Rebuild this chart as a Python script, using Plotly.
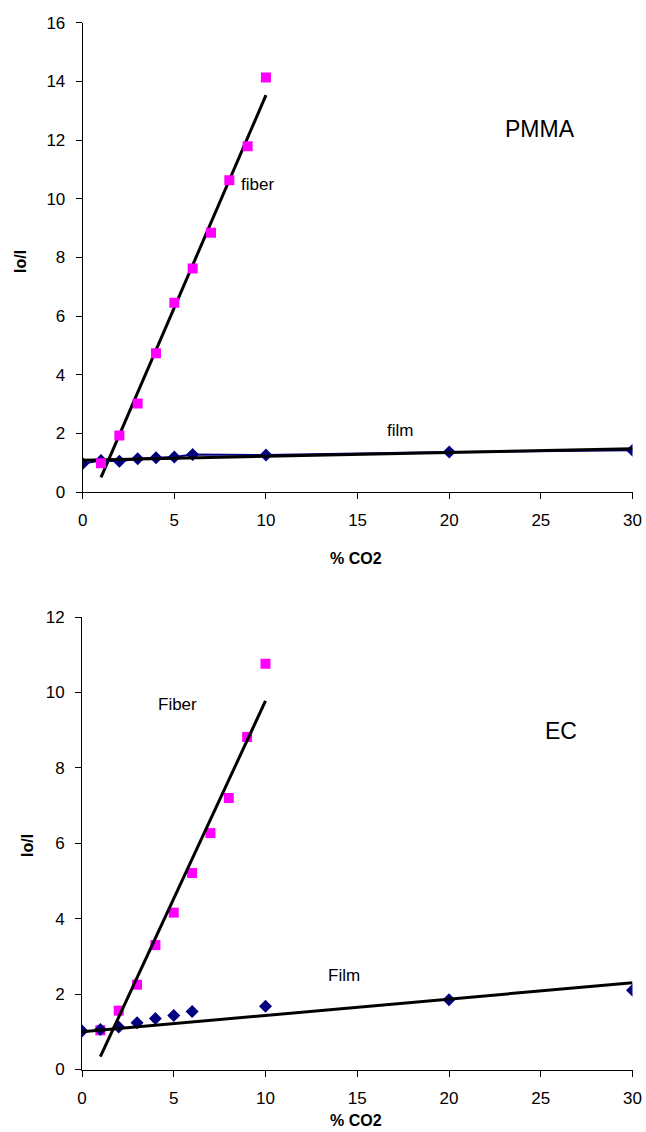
import numpy as np
import plotly.graph_objects as go

# ---------------- data ----------------
co2_fiber = [1, 2, 3, 4, 5, 6, 7, 8, 9, 10]
co2_film = [0, 1, 2, 3, 4, 5, 6, 10, 20, 30]

pmma_fiber = [0.98, 1.93, 3.02, 4.73, 6.45, 7.62, 8.84, 10.63, 11.79, 14.13]
pmma_film = [0.97, 1.07, 1.05, 1.13, 1.17, 1.19, 1.28, 1.26, 1.36, 1.42]

ec_fiber = [1.04, 1.56, 2.25, 3.30, 4.16, 5.21, 6.27, 7.20, 8.82, 10.76]
ec_film = [1.02, 1.06, 1.13, 1.24, 1.35, 1.43, 1.54, 1.68, 1.85, 2.10]

x_ticks = [0, 5, 10, 15, 20, 25, 30]
pmma_y_ticks = [0, 2, 4, 6, 8, 10, 12, 14, 16]
ec_y_ticks = [0, 2, 4, 6, 8, 10, 12]

W, H = 646, 1132
FONT = "Liberation Sans, Arial, Helvetica, sans-serif"
PINK = "#FF00FF"
NAVY = "#000080"
DIAMOND = 10
SQUARE = 10


def fit(x, y):
    s, b = np.polyfit(np.array(x, float), np.array(y, float), 1)
    return s, b


def fit_fixed(x, y, b0):
    x = np.array(x, float)
    y = np.array(y, float)
    s = np.sum(x * (y - b0)) / np.sum(x * x)
    return s, b0


def line_pts(x, s, b):
    xs = np.array([min(x), max(x)], float)
    return xs, s * xs + b


fig = go.Figure()

# ---- top: PMMA ----
s, b = fit(co2_fiber, pmma_fiber)
lx, ly = line_pts(co2_fiber, s, b)
fig.add_trace(go.Scatter(x=lx, y=ly, mode="lines", line=dict(color="black", width=3),
                         xaxis="x", yaxis="y", showlegend=False, hoverinfo="skip"))
fig.add_trace(go.Scatter(x=co2_film, y=pmma_film, mode="lines+markers",
                         line=dict(color=NAVY, width=2),
                         marker=dict(symbol="diamond", size=DIAMOND, color=NAVY),
                         xaxis="x", yaxis="y", showlegend=False))
s, b = fit(co2_film, pmma_film)
lx, ly = line_pts(co2_film, s, b)
fig.add_trace(go.Scatter(x=lx, y=ly, mode="lines", line=dict(color="black", width=3),
                         xaxis="x", yaxis="y", showlegend=False, hoverinfo="skip"))
fig.add_trace(go.Scatter(x=co2_fiber, y=pmma_fiber, mode="markers",
                         marker=dict(symbol="square", size=SQUARE, color=PINK),
                         xaxis="x", yaxis="y", showlegend=False))

# ---- bottom: EC ----
fig.add_trace(go.Scatter(x=co2_fiber, y=ec_fiber, mode="markers",
                         marker=dict(symbol="square", size=SQUARE, color=PINK),
                         xaxis="x2", yaxis="y2", showlegend=False))
fig.add_trace(go.Scatter(x=co2_film, y=ec_film, mode="markers",
                         marker=dict(symbol="diamond", size=DIAMOND, color=NAVY),
                         xaxis="x2", yaxis="y2", showlegend=False))
s, b = fit(co2_fiber, ec_fiber)
lx, ly = line_pts(co2_fiber, s, b)
fig.add_trace(go.Scatter(x=lx, y=ly, mode="lines", line=dict(color="black", width=3),
                         xaxis="x2", yaxis="y2", showlegend=False, hoverinfo="skip"))
s, b = fit_fixed(co2_film, ec_film, 1.0)
lx, ly = line_pts(co2_film, s, b)
fig.add_trace(go.Scatter(x=lx, y=ly, mode="lines", line=dict(color="black", width=3),
                         xaxis="x2", yaxis="y2", showlegend=False, hoverinfo="skip"))

axis_common = dict(showgrid=False, zeroline=False, showline=True, linecolor="black",
                   linewidth=1, ticks="outside", ticklen=6, tickcolor="black",
                   tickfont=dict(family=FONT, size=17, color="black"), automargin=False)
x_extra = dict(ticklabelstandoff=7)
y_extra = dict(ticklabelstandoff=7)

fig.update_layout(
    width=W, height=H,
    margin=dict(l=0, r=0, t=0, b=0),
    paper_bgcolor="white", plot_bgcolor="white",
    font=dict(family=FONT, color="black"),
    xaxis=dict(domain=[82.7 / W, 632.5 / W], range=[0, 30], tickvals=x_ticks,
               anchor="y", **axis_common, **x_extra),
    yaxis=dict(domain=[1 - 492 / H, 1 - 22.7 / H], range=[0, 16], tickvals=pmma_y_ticks,
               anchor="x", **axis_common, **y_extra),
    xaxis2=dict(domain=[82 / W, 632.5 / W], range=[0, 30], tickvals=x_ticks,
                anchor="y2", **axis_common, **x_extra),
    yaxis2=dict(domain=[1 - 1069.5 / H, 1 - 617 / H], range=[0, 12], tickvals=ec_y_ticks,
                anchor="x2", **axis_common, **y_extra),
)

ann = []


def paper_text(px, py, text, size, angle=0):
    return dict(x=px / W, y=1 - py / H, xref="paper", yref="paper", text=text,
                showarrow=False, textangle=angle, xanchor="center", yanchor="middle",
                font=dict(family=FONT, size=size, color="black"))


ann.append(paper_text(356, 558, "<b>% CO2</b>", 16))
ann.append(paper_text(20, 262, "<b>Io/I</b>", 16, angle=-90))
ann.append(paper_text(356, 1120, "<b>% CO2</b>", 16))
ann.append(paper_text(27, 845, "<b>Io/I</b>", 16, angle=-90))


def data_text(x, y, text, size, xr, yr):
    return dict(x=x, y=y, xref=xr, yref=yr, text=text, showarrow=False,
                xanchor="center", yanchor="middle",
                font=dict(family=FONT, size=size, color="black"))


ann.append(data_text(24.97, 12.39, "PMMA", 23, "x", "y"))
ann.append(data_text(9.55, 10.49, "fiber", 17, "x", "y"))
ann.append(data_text(17.33, 2.09, "film", 17, "x", "y"))
ann.append(data_text(5.18, 9.68, "Fiber", 17, "x2", "y2"))
ann.append(data_text(26.08, 8.98, "EC", 23, "x2", "y2"))
ann.append(data_text(14.3, 2.48, "Film", 17, "x2", "y2"))

fig.update_layout(annotations=ann)

fig.write_html("out.html", config={"displayModeBar": False},
               post_script="document.body.style.margin='0';document.body.style.overflow='hidden';")
